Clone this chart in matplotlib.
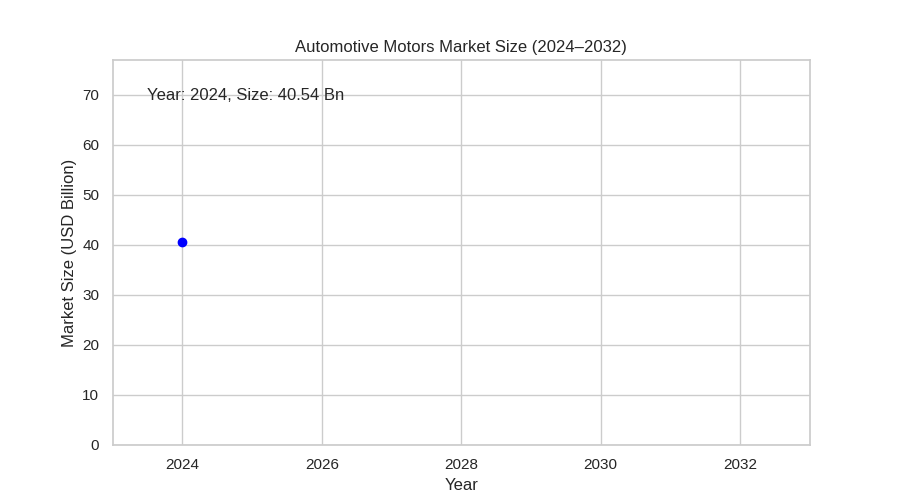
import matplotlib
matplotlib.use("Agg")
import matplotlib.pyplot as plt
import seaborn as sns

# data shown in the frame
years = [2024]
sizes = [40.54]

sns.set_theme(style="whitegrid")
plt.rcParams["font.family"] = ["Liberation Sans", "DejaVu Sans"]

fig, ax = plt.subplots(figsize=(9, 5), dpi=100)

ax.plot(years, sizes, "o", color="blue")
ax.text(2023.5, 70, f"Year: {years[-1]}, Size: {sizes[-1]:.2f} Bn", fontsize=12, va="center")

ax.set_xlim(2023, 2033)
ax.set_ylim(0, 77)
ax.set_xticks([2024, 2026, 2028, 2030, 2032])
ax.set_title("Automotive Motors Market Size (2024\u20132032)")
ax.set_xlabel("Year")
ax.set_ylabel("Market Size (USD Billion)")

plt.savefig("out.png")
